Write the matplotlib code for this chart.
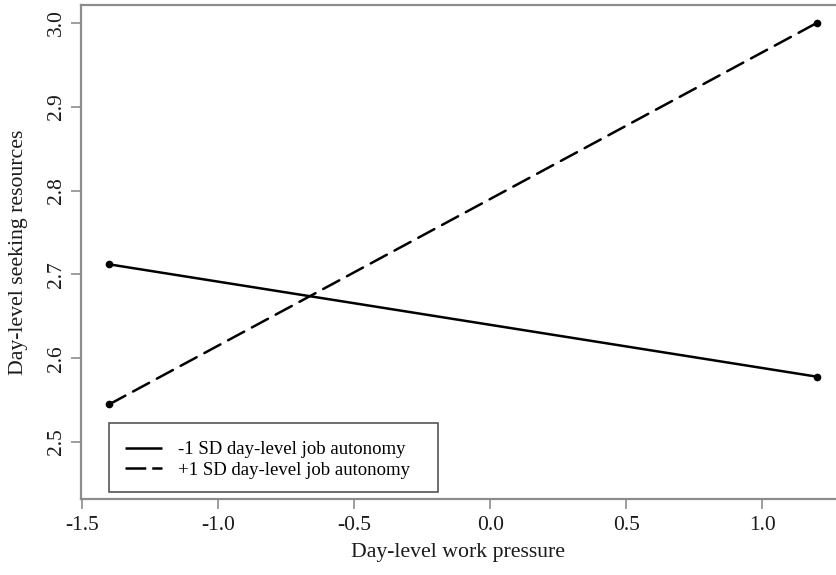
import matplotlib
matplotlib.use("Agg")
import matplotlib.pyplot as plt
from matplotlib.lines import Line2D
from matplotlib.patches import Rectangle

# Data
work_pressure = [-1.4, 1.2]
low_autonomy = [2.712, 2.578]
high_autonomy = [2.545, 3.0]
series_labels = ["-1 SD day-level job autonomy", "+1 SD day-level job autonomy"]
x_ticks = [-1.5, -1.0, -0.5, 0.0, 0.5, 1.0]
y_ticks = [2.5, 2.6, 2.7, 2.8, 2.9, 3.0]

plt.rcParams['font.family'] = ['Liberation Serif', 'DejaVu Serif']

W, H = 836, 575
AX_L, AX_R, AX_T, AX_B = 81, 845, 5, 499
fig = plt.figure(figsize=(W/100, H/100), dpi=100)
ax = fig.add_axes([AX_L/W, (H-AX_B)/H, (AX_R-AX_L)/W, (AX_B-AX_T)/H])

def ax_frac(px, py):
    return ((px-AX_L)/(AX_R-AX_L), (AX_B-py)/(AX_B-AX_T))

lw = 1.8
dash = (7.3, 3.5)
ax.plot(work_pressure, low_autonomy, color='black', lw=lw, solid_capstyle='round',
        marker='o', markersize=4.5, label=series_labels[0])
ax.plot(work_pressure, high_autonomy, color='black', lw=lw, dashes=dash,
        dash_capstyle='round', marker='o', markersize=4.5, label=series_labels[1])

ax.set_xlim(-1.504, 1.304)
ax.set_ylim(2.432, 3.0215)
ax.set_xticks(x_ticks)
ax.set_xticklabels([f"{v:.1f}" for v in x_ticks])
ax.set_yticks(y_ticks)
ax.set_yticklabels([f"{v:.1f}" for v in y_ticks], rotation=90, va='center')

grey = '#8c8c8c'
for s in ax.spines.values():
    s.set_color(grey)
    s.set_linewidth(1.6)
ax.tick_params(axis='both', direction='out', length=7, width=1.2, color=grey,
               labelsize=15.5, labelcolor='#1a1a1a')
ax.tick_params(axis='x', pad=5)
ax.tick_params(axis='y', pad=4)

ax.set_xlabel("Day-level work pressure", fontsize=15.7, color='#1a1a1a')
ax.set_ylabel("Day-level seeking resources", fontsize=15.7, color='#1a1a1a')
ax.xaxis.set_label_coords(*ax_frac(458, 552))
ax.yaxis.set_label_coords(*ax_frac(19, 252))
ax.xaxis.label.set_va('center')
ax.yaxis.label.set_va('center')

# legend: R-style box with extra right padding
x0, y0 = ax_frac(109, 492)
x1, y1 = ax_frac(438, 423)
ax.add_patch(Rectangle((x0, y0), x1-x0, y1-y0, transform=ax.transAxes,
                       facecolor='white', edgecolor='#555555', lw=1.2, zorder=4))
handles = [Line2D([0], [0], color='black', lw=lw, solid_capstyle='butt'),
           Line2D([0], [0], color='black', lw=lw, dashes=(8.3, 2.4), dash_capstyle='butt')]
leg = ax.legend(handles, series_labels, loc='center left',
                bbox_to_anchor=ax_frac(125, 460), borderaxespad=0,
                fontsize=13.5, frameon=False, handlelength=1.97,
                handletextpad=0.85, labelspacing=0.2, borderpad=0)
leg.set_zorder(5)

fig.savefig("out.png", dpi=100)
